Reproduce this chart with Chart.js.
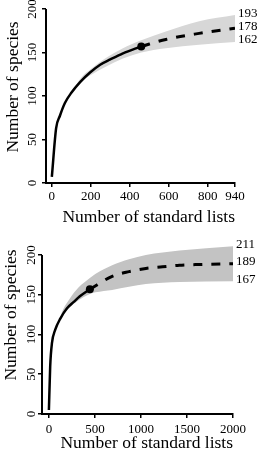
<!DOCTYPE html>
<html>
<head>
<meta charset="utf-8">
<script src="https://cdn.jsdelivr.net/npm/chart.js@4"></script>
<style>
  html, body { margin: 0; padding: 0; background: #fff; }
  canvas { display: block; }
</style>
</head>
<body>
<canvas id="panel-top" width="264" height="226"></canvas>
<canvas id="panel-bottom" width="264" height="226"></canvas>
<script>
// ---- Top panel (extrapolated to 940 lists) ----
const topObsX = [0, 22, 41, 67, 101, 145, 196, 248, 300, 365, 459];
const topObsY = [7, 63, 77, 92, 104, 116, 127, 136, 142, 149, 157];
const topExtX = [459, 585, 756, 940];
const topExtY = [157, 165, 172, 178];
const topBandX = [101, 150, 200, 279, 365, 459, 585, 756, 940];
const topUpper = [104, 121, 131, 144, 155, 164, 174, 186, 193];
const topLower = [104, 116, 124, 134, 143, 150, 155, 159, 162];
const topXTicks = [0, 200, 400, 600, 800, 940];
const topEndLabels = [193, 178, 162];

// ---- Bottom panel (extrapolated to 2000 lists) ----
const botObsX = [0, 14, 33, 69, 124, 197, 270, 336, 445];
const botObsY = [5, 60, 89, 106, 120, 133, 141, 148, 157];
const botExtX = [445, 687, 870, 1053, 1235, 1418, 1636, 2000];
const botExtY = [157, 173, 179, 183, 185, 187, 188, 189];
const botBandX = [80, 153, 226, 321, 445, 504, 687, 870, 1053, 1235, 1418, 2000];
const botUpper = [108, 131, 145, 159, 171, 176, 187, 194.5, 200, 203, 205.5, 211];
const botLower = [108, 125, 134, 143, 151, 153, 156, 160, 163.5, 165, 166, 167];
const botXTicks = [0, 500, 1000, 1500, 2000];
const botEndLabels = [211, 189, 167];

const yTicks = [0, 50, 100, 150, 200];

const serif = '"Liberation Serif", "Times New Roman", serif';
const zip = (xs, ys) => xs.map((x, i) => ({ x, y: ys[i] }));

function buildPanel(id, p) {
    // y axis line only spans 0..200 (band may rise above it)
    const axisLine = {
        id: 'axisLine',
        afterDatasetsDraw(chart) {
            const { ctx, chartArea, scales } = chart;
            ctx.save();
            ctx.strokeStyle = '#000';
            ctx.lineWidth = 2;
            ctx.beginPath();
            ctx.moveTo(chartArea.left, scales.y.getPixelForValue(0) + 1);
            ctx.lineTo(chartArea.left, scales.y.getPixelForValue(200));
            ctx.stroke();
            ctx.restore();
        }
    };

    const endLabels = {
        id: 'endLabels',
        afterDatasetsDraw(chart) {
            const { ctx, chartArea, scales } = chart;
            ctx.save();
            ctx.fillStyle = '#000';
            ctx.font = '13px ' + serif;
            ctx.textAlign = 'left';
            ctx.textBaseline = 'middle';
            p.endLabels.forEach(v => {
                ctx.fillText(String(v), chartArea.right + 3, scales.y.getPixelForValue(v) - 2);
            });
            ctx.restore();
        }
    };

    const yTitle = {
        id: 'yTitle',
        afterDraw(chart) {
            const ctx = chart.ctx;
            ctx.save();
            ctx.translate(p.yTitlePos[0], p.yTitlePos[1]);
            ctx.rotate(-Math.PI / 2);
            ctx.fillStyle = '#000';
            ctx.font = '17.5px ' + serif;
            ctx.textAlign = 'center';
            ctx.textBaseline = 'middle';
            ctx.fillText('Number of species', 0, 0);
            ctx.restore();
        }
    };

    const lastObs = p.obsX.length - 1;

    return new Chart(document.getElementById(id), {
        type: 'line',
        data: {
            datasets: [
                {
                    data: zip(p.obsX, p.obsY),
                    borderColor: '#000',
                    borderWidth: 2.5,
                    cubicInterpolationMode: 'monotone',
                    pointRadius: c => (c.dataIndex === lastObs ? 4 : 0),
                    pointBackgroundColor: '#000',
                    pointBorderWidth: 0,
                    fill: false
                },
                {
                    data: zip(p.extX, p.extY),
                    borderColor: '#000',
                    borderWidth: 3,
                    borderDash: [9, 9],
                    cubicInterpolationMode: 'monotone',
                    pointRadius: 0,
                    fill: false
                },
                {
                    data: zip(p.bandX, p.upper),
                    borderWidth: 0,
                    borderColor: 'rgba(0,0,0,0)',
                    backgroundColor: p.bandColor,
                    cubicInterpolationMode: 'monotone',
                    pointRadius: 0,
                    fill: '+1'
                },
                {
                    data: zip(p.bandX, p.lower),
                    borderWidth: 0,
                    borderColor: 'rgba(0,0,0,0)',
                    cubicInterpolationMode: 'monotone',
                    pointRadius: 0,
                    fill: false
                }
            ]
        },
        options: {
            responsive: false,
            animation: false,
            layout: { padding: { left: 0, right: p.padRight, top: p.padTop, bottom: 0 } },
            scales: {
                x: {
                    type: 'linear',
                    min: p.xMin,
                    max: p.xMax,
                    afterBuildTicks: s => { s.ticks = p.xTicks.map(v => ({ value: v })); },
                    afterFit: s => { s.height = p.xHeight; },
                    ticks: {
                        color: '#000',
                        font: { family: serif, size: 13 },
                        padding: p.xTickPad,
                        maxRotation: 0,
                        autoSkip: false,
                        callback: v => String(v)
                    },
                    grid: { drawOnChartArea: false, tickLength: 4, color: '#000', lineWidth: 1.5 },
                    border: { color: '#000', width: 2 },
                    title: {
                        display: true,
                        text: 'Number of standard lists',
                        align: 'end',
                        color: '#000',
                        font: { family: serif, size: 17.5, lineHeight: 1 },
                        padding: { top: 0, bottom: 0 }
                    }
                },
                y: {
                    type: 'linear',
                    min: 0,
                    max: p.yMax,
                    afterBuildTicks: s => { s.ticks = yTicks.map(v => ({ value: v })); },
                    afterFit: s => { s.width = p.yWidth; },
                    ticks: {
                        color: '#000',
                        font: { family: serif, size: 13 },
                        minRotation: 90,
                        maxRotation: 90,
                        crossAlign: 'center',
                        padding: p.yTickPad,
                        callback: v => String(v)
                    },
                    grid: { drawOnChartArea: false, tickLength: 4, color: '#000', lineWidth: 1.5 },
                    border: { display: false }
                }
            },
            plugins: {
                legend: { display: false },
                tooltip: { enabled: false },
                filler: { drawTime: 'beforeDatasetsDraw' }
            }
        },
        plugins: [axisLine, endLabels, yTitle]
    });
}

buildPanel('panel-top', {
    obsX: topObsX, obsY: topObsY, extX: topExtX, extY: topExtY,
    bandX: topBandX, upper: topUpper, lower: topLower,
    xTicks: topXTicks, endLabels: topEndLabels,
    xMin: -30, xMax: 940, yMax: 200,
    bandColor: '#d7d7d7',
    padRight: 29, padTop: 9, xHeight: 43, yWidth: 46,
    xTickPad: 2, yTickPad: 0,
    yTitlePos: [13, 87]
});

buildPanel('panel-bottom', {
    obsX: botObsX, obsY: botObsY, extX: botExtX, extY: botExtY,
    bandX: botBandX, upper: botUpper, lower: botLower,
    xTicks: botXTicks, endLabels: botEndLabels,
    xMin: -75, xMax: 2000, yMax: 215,
    bandColor: '#c3c3c3',
    padRight: 31, padTop: 17, xHeight: 38, yWidth: 42,
    xTickPad: 4, yTickPad: -3,
    yTitlePos: [11, 89]
});
</script>
</body>
</html>
